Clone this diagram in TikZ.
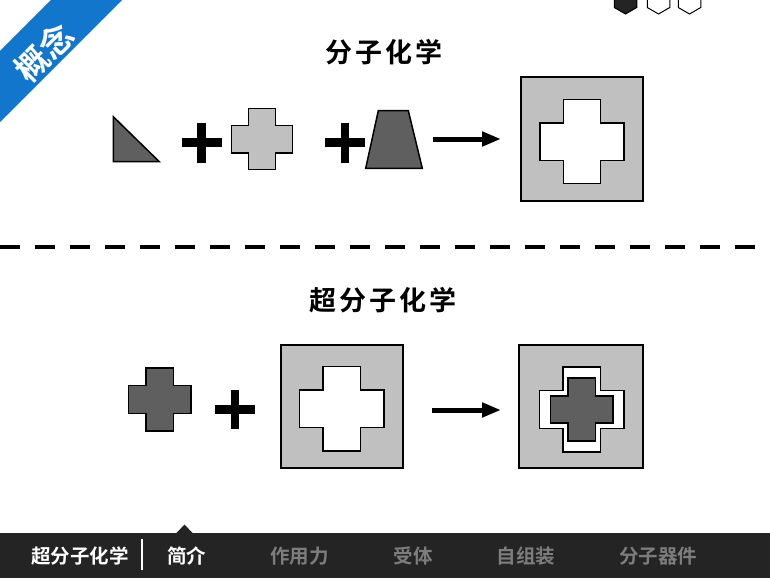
\documentclass[tikz,border=0pt]{standalone}
\usepackage{fontspec}
\usetikzlibrary{arrows.meta}
\newfontfamily\cjk{Noto Sans CJK SC}[BoldFont={Noto Sans CJK SC Bold}]
\newfontfamily\cjkt{Noto Sans CJK SC Bold}[LetterSpace=12]
\definecolor{bannerblue}{RGB}{18,118,205}
\definecolor{darkfill}{RGB}{95,95,95}
\definecolor{lightfill}{RGB}{192,192,192}
\definecolor{barbg}{RGB}{36,36,36}
\definecolor{navgray}{RGB}{125,125,125}
\newcommand\crosspath[4]{(#1-#4,#2-#3) -- (#1+#4,#2-#3) -- (#1+#4,#2-#4) -- (#1+#3,#2-#4) -- (#1+#3,#2+#4) -- (#1+#4,#2+#4) -- (#1+#4,#2+#3) -- (#1-#4,#2+#3) -- (#1-#4,#2+#4) -- (#1-#3,#2+#4) -- (#1-#3,#2-#4) -- (#1-#4,#2-#4) -- cycle}
\newcommand\hexpath[2]{(#1,#2-13) -- (#1+11.26,#2-6.5) -- (#1+11.26,#2+6.5) -- (#1,#2+13) -- (#1-11.26,#2+6.5) -- (#1-11.26,#2-6.5) -- cycle}
\tikzset{
  shapeline/.style={draw=black, line width=1.5pt, line join=miter},
  boxline/.style={draw=black, line width=1.8pt, fill=lightfill},
  plusbar/.style={line width=8.6pt, line cap=butt},
  reaction/.style={line width=5pt, -{Triangle[length=19pt,width=14pt]}},
  title/.style={font=\cjkt\fontsize{27}{30}\selectfont, text=black, inner sep=0pt},
  navon/.style={font=\cjk\bfseries\fontsize{19.5}{22}\selectfont, text=white, inner sep=0pt},
  navoff/.style={font=\cjk\bfseries\fontsize{19.5}{22}\selectfont, text=navgray, inner sep=0pt},
}
\begin{document}
\begin{tikzpicture}[x=1pt,y=-1pt]
\useasboundingbox (0,0) rectangle (770,578);
% banner
\fill[bannerblue] (0,51) -- (51,0) -- (122,0) -- (0,122) -- cycle;
\node[rotate=45, text=white, font=\cjk\bfseries\fontsize{33}{34}\selectfont, inner sep=0pt] (banner) at (44,52) {概念};
% hexagons
\filldraw[fill=barbg, draw=black, line width=1pt] \hexpath{625.5}{1};
\draw[black, line width=1pt, fill=white] \hexpath{658.5}{1};
\draw[black, line width=1pt, fill=white] \hexpath{689.5}{1};
% titles
\node[title] (t1) at (384,52) {分子化学};
\node[title] (t2) at (383,300) {超分子化学};
% top row
\draw[shapeline, fill=darkfill] (113.3,116.7) -- (113.3,161.7) -- (159.3,161.7) -- cycle;
\draw[plusbar] (181.7,142.7) -- (221.7,142.7);
\draw[plusbar] (201.7,122.7) -- (201.7,162.7);
\draw[shapeline, fill=lightfill] \crosspath{262}{139.2}{30.5}{13.7};
\draw[plusbar] (325,142.7) -- (365,142.7);
\draw[plusbar] (345,122.7) -- (345,162.7);
\draw[shapeline, fill=darkfill] (378.3,110.7) -- (408.3,110.7) -- (422.3,168.3) -- (365.7,168.3) -- cycle;
\coordinate (a1s) at (433,139);
\coordinate (a1e) at (501,139);
\draw[reaction] (a1s) -- (a1e);
\draw[boxline] (520.7,77.3) rectangle (643.3,200.7);
\draw[shapeline, fill=white] \crosspath{582}{141.7}{42}{18.6};
% divider
\coordinate (dl) at (0,247);
\coordinate (dr) at (770,247);
\draw[line width=4.3pt, dash pattern=on 20pt off 15pt] (dl) -- (dr);
% bottom row
\draw[shapeline, fill=darkfill] \crosspath{159.7}{399.5}{31.3}{13.8};
\draw[plusbar] (215,409.5) -- (255,409.5);
\draw[plusbar] (235,390) -- (235,429.3);
\draw[boxline] (280.7,345) rectangle (403.3,468.3);
\draw[shapeline, fill=white] \crosspath{341.7}{408.8}{42.3}{18.7};
\coordinate (a2s) at (432,410);
\coordinate (a2e) at (501,410);
\draw[reaction] (a2s) -- (a2e);
\draw[boxline] (519.3,345) rectangle (642.7,468.3);
\draw[shapeline, fill=white] \crosspath{581.7}{409.5}{42.3}{18.8};
\draw[shapeline, fill=darkfill] \crosspath{581.7}{409.5}{31.4}{13.7};
% bottom bar
\fill[barbg] (0,533) rectangle (770,578);
\fill[barbg] (176,533.5) -- (184.5,524.5) -- (193,533.5) -- cycle;
\node[navon] (n1) at (80,556) {超分子化学};
\coordinate (sept) at (142.3,539);
\coordinate (sepb) at (142.3,570);
\draw[white, line width=2pt] (sept) -- (sepb);
\node[navon] (n2) at (186.5,556) {简介};
\node[navoff] (n3) at (299.5,556) {作用力};
\node[navoff] (n4) at (413,556) {受体};
\node[navoff] (n5) at (526,556) {自组装};
\node[navoff] (n6) at (658,556) {分子器件};
\end{tikzpicture}
\end{document}
